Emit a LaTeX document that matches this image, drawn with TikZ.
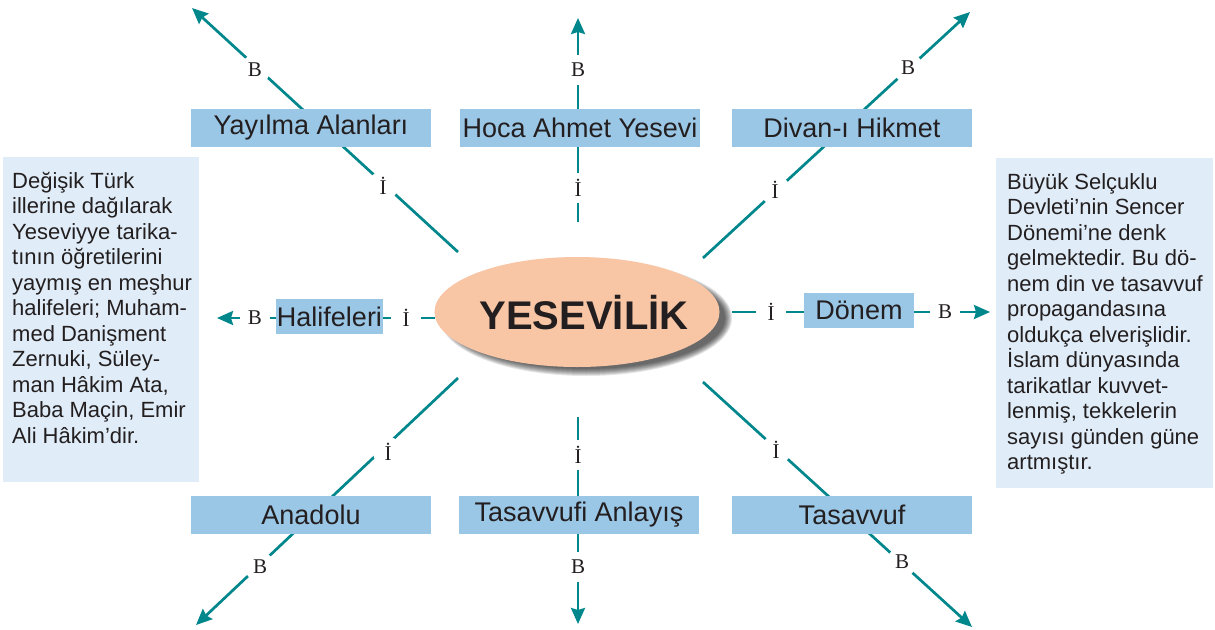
\documentclass[tikz,border=0pt]{standalone}
\usepackage{fontspec}
\setmainfont{Liberation Sans}
\newfontfamily\lblfont{Liberation Serif}
\usetikzlibrary{arrows.meta,shapes.geometric}
\definecolor{rayc}{RGB}{0,135,140}
\definecolor{boxc}{RGB}{155,199,230}
\definecolor{sidec}{RGB}{224,236,247}
\definecolor{ellc}{RGB}{249,198,165}
\definecolor{txt}{RGB}{35,31,32}
\frenchspacing
\begin{document}
\begin{tikzpicture}[x=1pt,y=-1pt,
  ray/.style={draw=rayc,line width=2.7pt,-{Stealth[length=16pt,width=14pt,inset=2pt]}},
  lbl/.style={circle,fill=white,inner sep=0pt,minimum size=30pt,text=txt,
    font=\lblfont\fontsize{21}{21}\selectfont},
  bigbox/.style={rectangle,fill=boxc,minimum width=240pt,minimum height=38pt,inner sep=0pt,
    text=txt,font=\fontsize{27}{27}\selectfont},
  smallbox/.style={rectangle,fill=boxc,minimum height=35pt,inner ysep=0pt,text=txt,
    font=\fontsize{27}{27}\selectfont},
  sidebox/.style={rectangle,fill=sidec,inner sep=0pt},
  sidetext/.style={anchor=north west,inner sep=0pt,align=left,text=txt,
    font=\fontsize{22}{25.5}\selectfont}]
\useasboundingbox (0,0) rectangle (1215,629);
\fill[white] (0,0) rectangle (1215,629);

% ray end points
\coordinate (sTL) at (458,252); \coordinate (tTL) at (192,8);
\coordinate (sTR) at (703,258); \coordinate (tTR) at (970,12);
\coordinate (sBL) at (458,378); \coordinate (tBL) at (196,625);
\coordinate (sBR) at (703,382); \coordinate (tBR) at (972,627);
\coordinate (sT) at (578,222);  \coordinate (tT) at (578,18);
\coordinate (sB) at (578,417);  \coordinate (tB) at (578,624);
\coordinate (sL) at (435,318);  \coordinate (tL) at (217,318);
\coordinate (sR) at (732,312);  \coordinate (tR) at (990,312);

% side boxes
\node[sidebox,minimum width=196pt,minimum height=325pt] (lbox) at (101,319.5) {};
\node[sidetext] (ltext) at (12,172) {Değişik Türk\\illerine dağılarak\\Yeseviyye tarika-\\tının öğretilerini\\yaymış en meşhur\\halifeleri; Muham-\\med Danişment\\Zernuki, Süley-\\man Hâkim Ata,\\Baba Maçin, Emir\\Ali Hâkim’dir.};
\node[sidebox,minimum width=217pt,minimum height=330pt] (rbox) at (1104.5,323) {};
\node[sidetext] (rtext) at (1007,173) {Büyük Selçuklu\\Devleti’nin Sencer\\Dönemi’ne denk\\gelmektedir. Bu dö-\\nem din ve tasavvuf\\propagandasına\\oldukça elverişlidir.\\İslam dünyasında\\tarikatlar kuvvet-\\lenmiş, tekkelerin\\sayısı günden güne\\artmıştır.};

% rays
\draw[ray] (sTL) -- (tTL);
\draw[ray] (sTR) -- (tTR);
\draw[ray] (sBL) -- (tBL);
\draw[ray] (sBR) -- (tBR);
\draw[ray] (sT) -- (tT);
\draw[ray] (sB) -- (tB);
\draw[ray] (sL) -- (tL);
\draw[ray] (sR) -- (tR);

% labels on rays
\node[lbl] (bTL) at (255,70) {B};   \node[lbl] (iTL) at (383,186) {İ};
\node[lbl] (bTR) at (908,68) {B};   \node[lbl] (iTR) at (775,190) {İ};
\node[lbl] (bBL) at (260,567) {B};  \node[lbl] (iBL) at (388,452) {İ};
\node[lbl] (bBR) at (902,562) {B};  \node[lbl] (iBR) at (776,450) {İ};
\node[lbl] (bT) at (578,70) {B};    \node[lbl] (iT) at (578,188) {İ};
\node[lbl] (iB) at (578,455) {İ};   \node[lbl] (bB) at (578,567) {B};
\node[lbl] (bL) at (255,318) {B};   \node[lbl] (iL) at (406,318) {İ};
\node[lbl] (iR) at (771,312) {İ};   \node[lbl] (bR) at (945,312) {B};

% boxes
\node[bigbox] (yay) at (311,128) {Yayılma Alanları};
\node[bigbox] (hoca) at (580,128) {Hoca Ahmet Yesevi};
\node[bigbox] (divan) at (852,128) {Divan-ı Hikmet};
\node[bigbox] (ana) at (311,515) {Anadolu};
\node[bigbox] (tasa) at (579,515) {Tasavvufi Anlayış};
\node[bigbox] (tas) at (852,515) {Tasavvuf};
\node[smallbox,inner xsep=1pt] (hal) at (329.5,316.5) {Halifeleri};
\node[smallbox,inner xsep=11pt] (don) at (859,310.5) {Dönem};

% central ellipse with soft shadow
\foreach \k in {0,...,7}{
  \fill[black,opacity=0.1] (586,318) ellipse ({146-\k} and {58-\k});
}
\node[ellipse,fill=ellc,minimum width=285pt,minimum height=110pt,inner sep=0pt] (ell) at (577,312) {};
\node[text=txt,font=\bfseries\fontsize{40}{40}\selectfont,inner sep=0pt] (ellt) at (584,313) {YESEVİLİK};
\end{tikzpicture}
\end{document}
